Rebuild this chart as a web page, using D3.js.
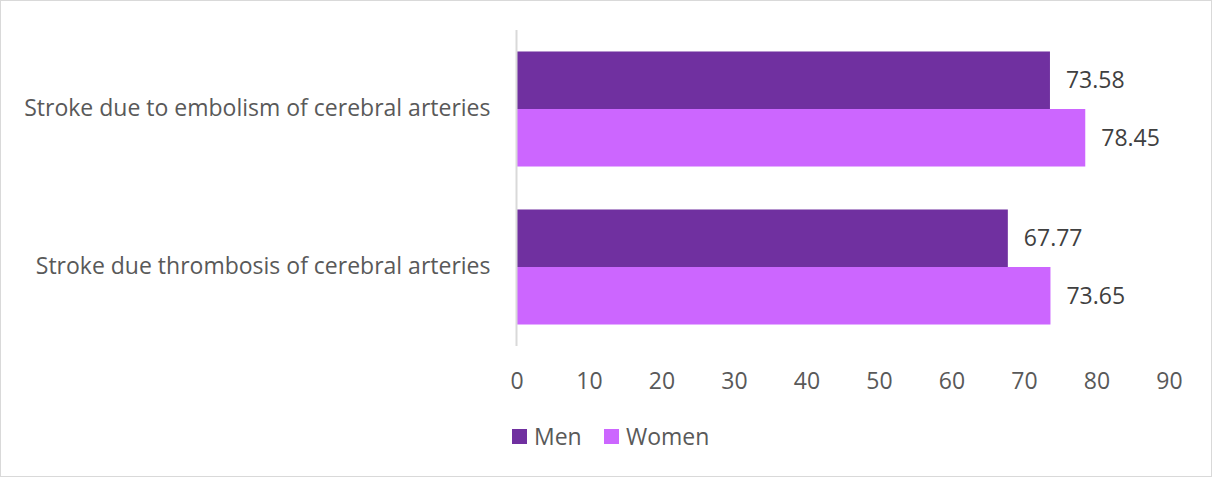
<!DOCTYPE html>
<html>
<head>
<meta charset="utf-8">
<script src="https://cdn.jsdelivr.net/npm/d3@7"></script>
<style>
html,body{margin:0;padding:0;background:#fff;}
svg{display:block;font-family:"Open Sans",sans-serif;}
</style>
</head>
<body>
<svg id="chart" width="1212" height="477"></svg>
<script>
const categories = ["Stroke due to embolism of cerebral arteries", "Stroke due thrombosis of cerebral arteries"];
const seriesNames = ["Men", "Women"];
const menValues = [73.58, 67.77];
const womenValues = [78.45, 73.65];
const xTicks = [0, 10, 20, 30, 40, 50, 60, 70, 80, 90];
const colors = ["#7030a0", "#cc66ff"];

const svg = d3.select("#chart");
const W = 1212, H = 477;
const FS = 23;

svg.append("rect").attr("x", 0.5).attr("y", 0.5).attr("width", W - 1).attr("height", H - 1)
  .attr("fill", "#fff").attr("stroke", "#d9d9d9").attr("stroke-width", 1);

const x = d3.scaleLinear().domain([0, 90]).range([516.5, 1169]);
const y = d3.scaleBand().domain(categories).range([30, 346]).paddingInner(0.272).paddingOuter(0.136);
const ySub = d3.scaleBand().domain(seriesNames).range([0, y.bandwidth()]);

const series = [menValues, womenValues];

// bars
categories.forEach((c, i) => {
  seriesNames.forEach((s, j) => {
    const v = series[j][i];
    svg.append("rect")
      .attr("x", x(0))
      .attr("y", y(c) + ySub(s))
      .attr("width", x(v) - x(0))
      .attr("height", ySub.bandwidth())
      .attr("fill", colors[j]);
    svg.append("text")
      .attr("x", x(v) + 16)
      .attr("y", y(c) + ySub(s) + ySub.bandwidth() / 2)
      .attr("dy", "0.35em")
      .attr("font-size", FS)
      .attr("fill", "#404040")
      .text(v.toFixed(2));
  });
});

// axis line (vertical)
svg.append("line").attr("x1", x(0)).attr("x2", x(0)).attr("y1", 30).attr("y2", 346)
  .attr("stroke", "#d9d9d9").attr("stroke-width", 2);

// category labels
const yAxis = d3.axisLeft(y).tickSize(0).tickPadding(0);
const gy = svg.append("g").attr("transform", `translate(${x(0) - 26},0)`).call(yAxis);
gy.select(".domain").remove();
gy.selectAll("text").attr("font-size", FS).attr("fill", "#595959").attr("font-family", "Open Sans, sans-serif");

// x tick labels
const xAxis = d3.axisBottom(x).tickValues(xTicks).tickSize(0).tickPadding(0).tickFormat(d3.format("d"));
const gx = svg.append("g").attr("transform", `translate(0,381)`).call(xAxis);
gx.select(".domain").remove();
gx.selectAll("text").attr("dy", "0.35em").attr("font-size", FS).attr("fill", "#595959").attr("font-family", "Open Sans, sans-serif");

// legend
const legendX = [512, 604];
seriesNames.forEach((s, j) => {
  svg.append("rect").attr("x", legendX[j]).attr("y", 429).attr("width", 15).attr("height", 15).attr("fill", colors[j]);
  svg.append("text").attr("x", legendX[j] + 22).attr("y", 437).attr("dy", "0.35em")
    .attr("font-size", FS).attr("fill", "#595959").text(s);
});
</script>
</body>
</html>
